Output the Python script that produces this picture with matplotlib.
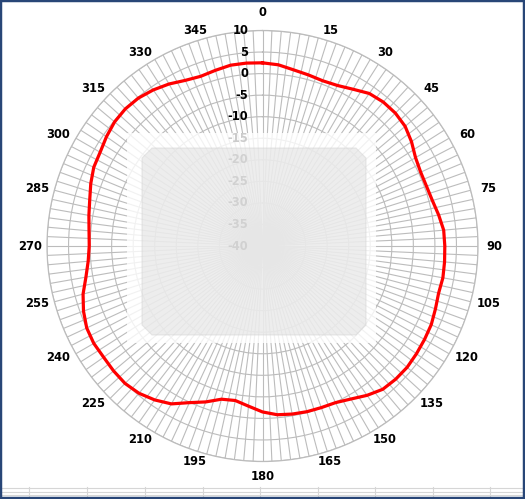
import numpy as np
import matplotlib
matplotlib.use("Agg")
import matplotlib.pyplot as plt
from matplotlib.transforms import offset_copy
from matplotlib.patches import Rectangle, Polygon
from matplotlib.lines import Line2D

# ---- data -------------------------------------------------------------
angles_deg = list(range(0, 360, 5))
gain_db = [
    2.5, 2.2, 1.5, 1.1, 0.8, 1.1, 2.0, 3.2, 3.6, 3.6,   # 0-45
    3.2, 2.2, 1.0, 0.5, 0.5, 0.8, 1.5, 2.2,             # 50-85
    2.3, 2.4, 2.5, 2.3, 2.7, 3.2, 3.4, 3.6, 3.8,        # 90-130
    3.7, 3.4, 2.3, 1.0, 0.1, -0.1, -0.2, -0.4, -0.7,    # 135-175
    -1.5, -2.7, -3.6, -3.2, -1.5, 0.1, 2.3, 3.6, 4.6,   # 180-220
    5.1, 5.1, 5.0, 5.2, 5.0, 4.2, 3.1, 1.6, 0.6,        # 225-265
    0.2, 0.4, 0.9, 1.5, 2.4, 3.2, 3.5, 4.2, 4.8,        # 270-310
    5.0, 4.8, 4.2, 3.4, 2.4, 1.9, 2.2, 2.6, 2.6,        # 315-355
]
r_ticks = [10, 5, 0, -5, -10, -15, -20, -25, -30, -35, -40]
theta_label_deg = list(range(0, 360, 15))
spoke_step_deg = 2.5
sheet_col_x = [29, 87, 145, 203, 260, 318, 375, 433, 490]
sheet_row_y = [488, 492, 495]

W, H = 525, 499
fig = plt.figure(figsize=(W / 100, H / 100), dpi=100)
fig.patch.set_facecolor("white")

cx, cy, R = 262.5, 246, 215.5
ax = fig.add_axes([(cx - R) / W, (H - cy - R) / H, 2 * R / W, 2 * R / H],
                  projection="polar")
ax.set_theta_zero_location("N")
ax.set_theta_direction(-1)
ax.set_ylim(-40, 10)
ax.set_yticks(r_ticks)
ax.set_yticklabels([])
ax.set_xticks(np.deg2rad(np.arange(0, 360, spoke_step_deg)))
ax.set_xticklabels([])
ax.tick_params(length=0, pad=0)
ax.grid(True, color="#bcbcbc", lw=0.8)
ax.spines["polar"].set_color("#bcbcbc")
ax.spines["polar"].set_linewidth(0.9)
ax.set_facecolor("white")

th = np.deg2rad(angles_deg + [360])
vals = gain_db + [gain_db[0]]
ax.plot(th, vals, color="#ff0000", lw=2.3, zorder=5, solid_joinstyle="round")

font = dict(family="DejaVu Sans", weight="bold", size=8.3, color="black")
for a in theta_label_deg:
    rad = np.deg2rad(a)
    s, c = np.sin(rad), np.cos(rad)
    if a in (0, 180):
        dx, dy = 0, (18 if a == 0 else 15) * np.sign(c)
    else:
        dx = 14 * s + np.sign(s) * (2.5 + 6 * abs(c))
        dy = 14 * c - np.sign(c) * 6.5 * abs(c)
    tr = offset_copy(ax.transData, fig=fig, x=dx, y=dy, units="dots")
    ax.text(rad, 10, str(a), transform=tr, ha="center", va="center",
            clip_on=False, **font)

for r in r_ticks:
    tr = offset_copy(ax.transData, fig=fig, x=-14, y=0, units="dots")
    ax.text(0, r, str(r), transform=tr, ha="right", va="center",
            clip_on=False, zorder=4, **font)

# faded central overlay
def px(x, y):
    return (x / W, 1 - y / H)

x0, y0, x1, y1 = 127, 133, 376, 343
fig.add_artist(Rectangle(px(x0, y1), (x1 - x0) / W, (y1 - y0) / H,
                         transform=fig.transFigure, fc="white", ec="none",
                         alpha=0.8, zorder=10))
ix0, iy0, ix1, iy1, cut = 142, 148, 366, 335, 10
inner = [px(ix0 + cut, iy0), px(ix1 - cut, iy0), px(ix1, iy0 + cut),
         px(ix1, iy1 - cut), px(ix1 - cut, iy1), px(ix0 + cut, iy1),
         px(ix0, iy1 - cut), px(ix0, iy0 + cut)]
fig.add_artist(Polygon(inner, closed=True, transform=fig.transFigure,
                       fc="#d9d9d9", ec="#cfcfcf", lw=0.8, alpha=0.45, zorder=11))

# spreadsheet lines at bottom
for y in sheet_row_y:
    fig.add_artist(Line2D([0, 1], [1 - y / H, 1 - y / H], transform=fig.transFigure,
                          color="#d6d6d6", lw=0.8))
for x in sheet_col_x:
    fig.add_artist(Line2D([x / W, x / W], [1 - 497 / H, 1 - 487 / H],
                          transform=fig.transFigure, color="#d6d6d6", lw=0.8))

# frame
fig.add_artist(Rectangle((0, 0), 1, 1, transform=fig.transFigure, fill=False,
                         ec="#284677", lw=3.2, zorder=20))

fig.savefig("out.png", dpi=100)
